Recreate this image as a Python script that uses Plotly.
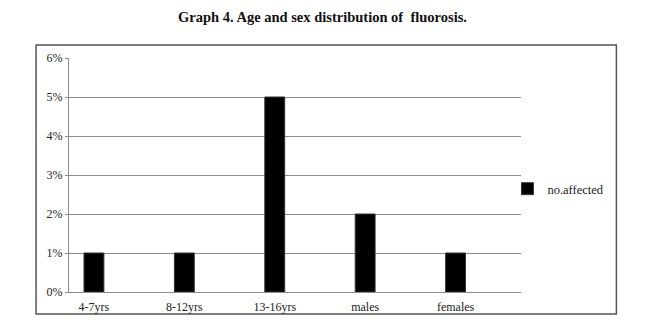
import plotly.graph_objects as go

categories = ["4-7yrs", "8-12yrs", "13-16yrs", "males", "females"]
no_affected = [1, 1, 5, 2, 1]
y_ticks = [0, 1, 2, 3, 4, 5, 6]
y_tick_labels = ["0%", "1%", "2%", "3%", "4%", "5%", "6%"]

serif = "Liberation Serif"

fig = go.Figure()
fig.add_trace(go.Bar(
    x=categories, y=no_affected, name="no.affected",
    marker=dict(color="#000000", line=dict(color="#333333", width=1)),
    width=0.22,
))

fig.update_layout(
    width=645, height=330,
    margin=dict(l=69, r=123.5, t=58, b=38),
    paper_bgcolor="white", plot_bgcolor="white",
    title=dict(text="<b>Graph 4. Age and sex distribution of  fluorosis.</b>",
               x=0.5, xanchor="center", y=0.948, yanchor="middle",
               font=dict(family=serif, size=14.5, color="#111111")),
    font=dict(family=serif, size=12, color="#222222"),
    showlegend=True,
    legend=dict(x=0.97, xanchor="left", y=0.44, yanchor="middle",
                font=dict(family=serif, size=12.5, color="#222222"),
                bgcolor="rgba(0,0,0,0)", itemwidth=30),
)
fig.update_yaxes(range=[0, 6], tickvals=y_ticks, ticktext=y_tick_labels,
                 showgrid=True, gridcolor="#8c8c8c", gridwidth=1,
                 showline=True, linecolor="#8c8c8c", linewidth=1,
                 ticks="outside", ticklen=3, tickcolor="#8c8c8c",
                 zeroline=False, tickfont=dict(family=serif, size=12, color="#222222"))
fig.update_xaxes(range=[-0.276, 4.724],
                 showline=True, linecolor="#8c8c8c", linewidth=1,
                 ticks="outside", ticklen=4, tickcolor="rgba(0,0,0,0)",
                 tickfont=dict(family=serif, size=12, color="#222222"))

fig.add_shape(type="rect", xref="paper", yref="paper",
              x0=-0.0729, x1=1.211, y0=-0.094, y1=1.0556,
              line=dict(color="#555555", width=1.5), fillcolor="rgba(0,0,0,0)",
              layer="below")

fig.write_html("out.html")
